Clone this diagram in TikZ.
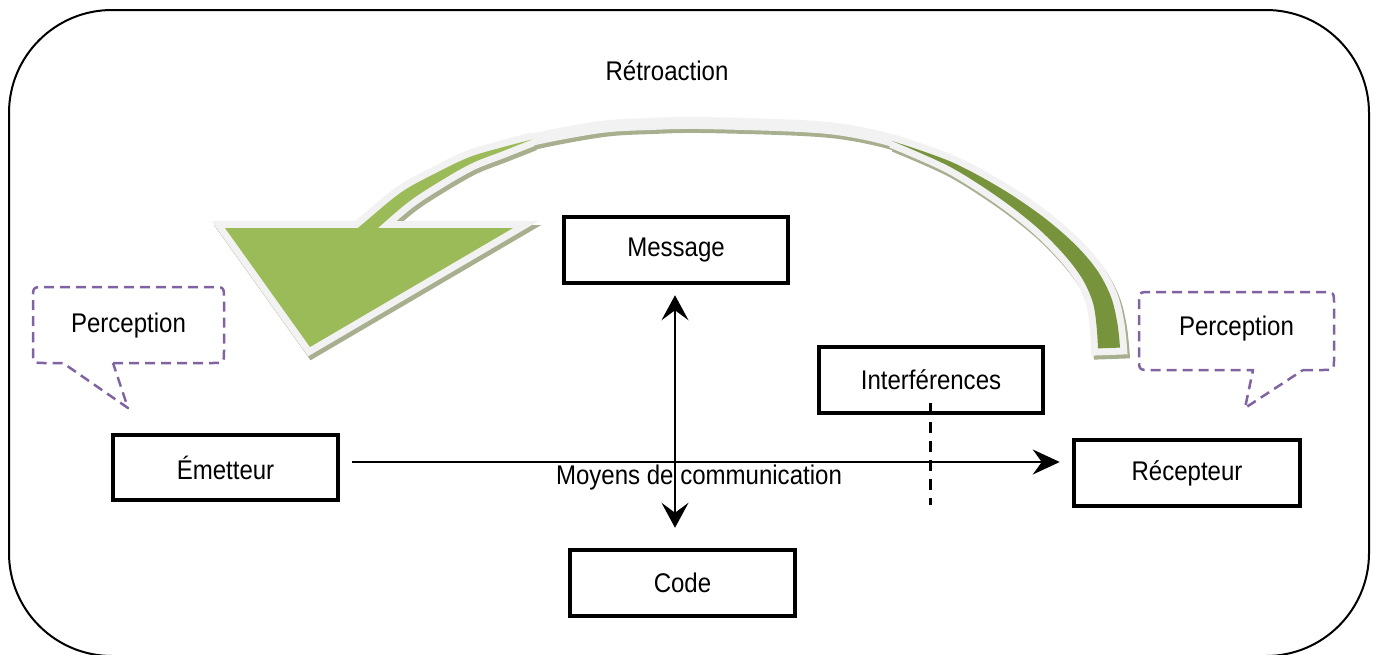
\documentclass[tikz,border=0pt]{standalone}
\usepackage{fontspec}
\setmainfont{Liberation Sans}[FakeStretch=0.89]
\usetikzlibrary{arrows.meta,calc}
\definecolor{dgreen}{HTML}{77933C}
\definecolor{lgreen}{HTML}{9BBB59}
\definecolor{rim}{HTML}{F2F2F2}
\definecolor{shade}{HTML}{A7AF8E}
\definecolor{calloutc}{HTML}{8064A2}
\newcommand\diagfont{\fontsize{27pt}{32pt}\selectfont}
\newcommand\bigarrow[4]{%
  \path[#1] (225,228) -- (513,228) -- (310,347) -- cycle;
  \path[#4] plot[smooth,tension=0.55] coordinates {(368,228) (405,197) (440,176) (471,160) (500,150) (535,139) (601,127) (650,124) (700,123) (800,126) (850,131) (900,143) (950,164) (1000,193) (1040,222) (1070,250) (1090,275) (1102,300) (1107,325) (1109,348)};
  \path[#2] plot[smooth,tension=0.55] coordinates {(532,139.5) (499.4,148.1) (469.7,157) (437.8,172.1) (401.5,192.1) (363.8,223) (351.8,233)} -- plot[smooth,tension=0.55] coordinates {(360.2,243) (372.2,233) (408.5,201.9) (442.2,179.9) (472.3,163) (500.6,151.9) (532,139.5)} -- cycle;
  \path[#3] plot[smooth,tension=0.55] coordinates {(892,141) (951.1,161.8) (1002.4,189.2) (1043.8,217.4) (1075.5,244.9) (1097.2,270.4) (1111,296.9) (1117.4,323.5) (1120,347.6)} -- plot[smooth,tension=0.55] coordinates {(1098,348.4) (1096.6,326.5) (1093,303.1) (1082.8,279.6) (1064.5,255.1) (1036.2,226.7) (997.6,196.8) (948.9,166.2) (892,141)} -- cycle;
}
\begin{document}
\begin{tikzpicture}[x=1pt,y=-1pt,line join=miter,
  box/.style={draw=black,line width=4.5pt,minimum width=224pt,minimum height=66pt,inner sep=0pt,font=\diagfont},
  lbl/.style={font=\diagfont,inner sep=0pt,anchor=base},
  conn/.style={line width=1.5pt},
  bubble/.style={draw=calloutc,line width=2.5pt,dash pattern=on 10pt off 6pt,line join=round},
  tipH/.style={-{Stealth[length=27pt,width=25pt,inset=9pt]}},
  tipV/.style={{Stealth[length=25pt,width=27pt,inset=10pt]}-{Stealth[length=25pt,width=27pt,inset=10pt]}}]
\useasboundingbox (0,0) rectangle (1375,654);
% outer frame
\draw[line width=2pt,rounded corners=103pt] (9,10) rectangle (1369,656);
% feedback arrow: shadow, rim, fill
\begin{scope}[shift={(2.5,4)}]
  \bigarrow{fill=shade,draw=shade,line width=14pt}{fill=shade,draw=shade,line width=14pt}{fill=shade,draw=shade,line width=14pt}{draw=shade,line width=12pt}
\end{scope}
\bigarrow{draw=rim,line width=14pt}{draw=rim,line width=14pt}{draw=rim,line width=14pt}{draw=rim,line width=12pt}
\bigarrow{fill=lgreen}{fill=lgreen}{fill=dgreen}{draw=none}
\node[lbl] (T) at (667,80) {Rétroaction};
% boxes
\node[box] (M) at (676,250) {Message};
\node[box,minimum width=225pt,minimum height=65pt] (E) at (225.5,467.5) {Émetteur};
\node[box,minimum width=225pt] (C) at (682.5,583) {Code};
\node[box,minimum width=226pt] (R) at (1187,473) {Récepteur};
\node[box] (I) at (931,380) {Interférences};
% callouts
\draw[bubble] (113,363) -- (212,363) .. controls (224,363) .. (224,351) -- (224,299) .. controls (224,287) .. (212,287) -- (45,287) .. controls (33,287) .. (33,299) -- (33,351) .. controls (33,363) .. (45,363) -- (63,363) -- (128,408) -- cycle;
\draw[bubble] (1303,370) -- (1322,370) .. controls (1334,370) .. (1334,358) -- (1334,304) .. controls (1334,292) .. (1322,292) -- (1151,292) .. controls (1139,292) .. (1139,304) -- (1139,358) .. controls (1139,370) .. (1151,370) -- (1253,370) -- (1245,408) -- cycle;
\node[lbl] (P1) at (128.5,332) {Perception};
\node[lbl] (P2) at (1236.5,335) {Perception};
% connectors
\draw[conn,tipH] ($(E.east)+(12,-5.5)$) -- ($(R.west)+(-12,-11)$);
\draw[conn,tipV] ($(M.south)+(-1,10)$) -- ($(C.north)+(-7.5,-20)$);
\draw[line width=3pt,dash pattern=on 11pt off 8pt] ($(I.south)+(-1,-12)$) -- ($(I.south)+(-1,90)$);
\node[lbl] (MC) at (699,484) {Moyens de communication};
\end{tikzpicture}
\end{document}
